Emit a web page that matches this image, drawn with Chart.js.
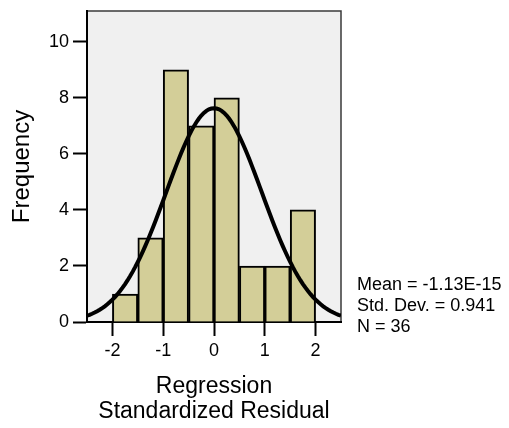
<!DOCTYPE html>
<html>
<head>
<meta charset="utf-8">
<script src="https://cdn.jsdelivr.net/npm/chart.js@4.4.1/dist/chart.umd.min.js"></script>
<style>
  html, body { margin: 0; padding: 0; background: #fff; }
  #wrap { width: 509px; height: 428px; }
</style>
</head>
<body>
<div id="wrap"><canvas id="histChart" width="509" height="428"></canvas></div>
<script>
// histogram bins (centres) and counts
var binCenters = [-1.75, -1.25, -0.75, -0.25, 0.25, 0.75, 1.25, 1.75];
var binCounts  = [1, 3, 9, 7, 8, 2, 2, 4];
var binWidth = 0.5;

// summary statistics shown at the right
var statMean = -1.13e-15;
var statSD = 0.941;
var statN = 36;
var statLines = ["Mean = -1.13E-15", "Std. Dev. = 0.941", "N = 36"];

var xTicks = [-2, -1, 0, 1, 2];
var yTicks = [0, 2, 4, 6, 8, 10];

// normal curve from the stated mean / sd, scaled to counts per bin
var curvePts = [];
for (var i = 0; i <= 100; i++) {
    var x = -2.5 + i * 0.05;
    var z = (x - statMean) / statSD;
    curvePts.push({x: x, y: statN * binWidth / (statSD * Math.sqrt(2 * Math.PI)) * Math.exp(-0.5 * z * z)});
}

var fontFam = "'Liberation Sans', Arial, sans-serif";

var plotBg = {
    id: 'plotBg',
    beforeDraw: function(chart){
        var a = chart.chartArea, ctx = chart.ctx;
        ctx.save();
        ctx.fillStyle = '#f0f0f0';
        ctx.fillRect(a.left, a.top, a.right - a.left, a.bottom - a.top);
        ctx.strokeStyle = '#3a3a3a';
        ctx.lineWidth = 1.5;
        ctx.strokeRect(a.left, a.top, a.right - a.left, a.bottom - a.top);
        ctx.restore();
    },
    afterDraw: function(chart){
        var ctx = chart.ctx;
        ctx.save();
        ctx.fillStyle = '#000';
        ctx.font = "18px " + fontFam;
        ctx.textBaseline = 'alphabetic';
        var ys = [290, 311, 332];
        statLines.forEach(function(t, k){ ctx.fillText(t, 357, ys[k]); });
        ctx.restore();
    }
};

var histChart = new Chart(document.getElementById('histChart').getContext('2d'), {
    type: 'bar',
    data: {
        datasets: [{
            type: 'line',
            data: curvePts,
            borderColor: '#000',
            borderWidth: 4,
            pointRadius: 0,
            fill: false,
            order: 0
        }, {
            type: 'bar',
            data: binCenters.map(function(c, k){ return {x: c, y: binCounts[k]}; }),
            backgroundColor: '#d3ce98',
            borderColor: '#000',
            borderWidth: 2,
            barPercentage: 1,
            categoryPercentage: 1,
            order: 1
        }]
    },
    options: {
        responsive: false,
        animation: false,
        layout: { padding: { left: 0, top: 11, right: 168, bottom: 0 } },
        plugins: { legend: { display: false }, tooltip: { enabled: false } },
        scales: {
            x: {
                type: 'linear',
                min: -2.5,
                max: 2.5,
                offset: false,
                afterFit: function(s){ s.height = 106; s.paddingLeft = 0; s.paddingRight = 0; },
                afterBuildTicks: function(s){ s.ticks = xTicks.map(function(v){ return {value: v}; }); },
                grid: { offset: false, drawOnChartArea: false, drawTicks: true, tickLength: 14, tickWidth: 2, tickColor: '#000' },
                border: { display: true, color: '#000', width: 2 },
                ticks: { color: '#000', padding: 4, maxRotation: 0, font: { family: fontFam, size: 18 } },
                title: {
                    display: true,
                    text: ['Regression', 'Standardized Residual'],
                    color: '#000',
                    font: { family: fontFam, size: 23, lineHeight: 1.09 },
                    padding: { top: 0, bottom: 4 }
                }
            },
            y: {
                min: 0,
                max: 11.1,
                afterFit: function(s){ s.width = 87; s.paddingTop = 0; s.paddingBottom = 0; },
                afterBuildTicks: function(s){ s.ticks = yTicks.map(function(v){ return {value: v}; }); },
                grid: { drawOnChartArea: false, drawTicks: true, tickLength: 14, tickWidth: 2, tickColor: '#000' },
                border: { display: true, color: '#000', width: 2 },
                ticks: { color: '#000', padding: 4, font: { family: fontFam, size: 18 } },
                title: {
                    display: true,
                    text: 'Frequency',
                    color: '#000',
                    font: { family: fontFam, size: 24, lineHeight: 1.1 },
                    padding: { top: 9, bottom: 0 }
                }
            }
        }
    },
    plugins: [plotBg]
});
</script>
</body>
</html>
